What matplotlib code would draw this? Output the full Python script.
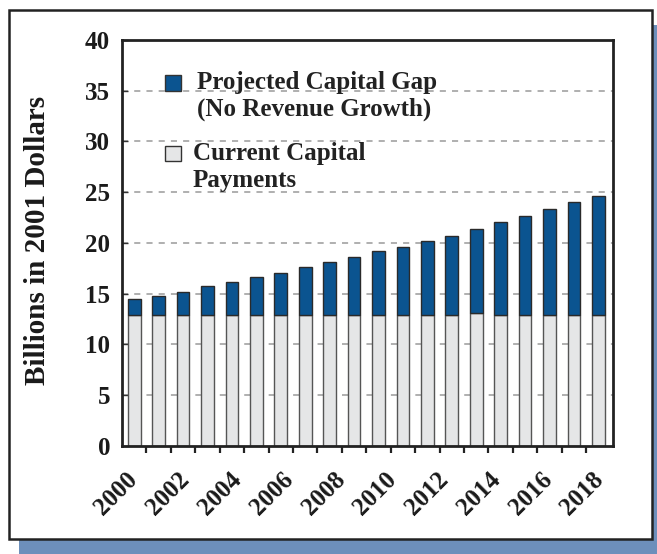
import matplotlib
matplotlib.use("Agg")
import matplotlib.pyplot as plt
import matplotlib.patches as mpatches
import numpy as np

years = list(range(2000, 2020))
current_payments = [12.9, 12.9, 12.9, 12.9, 12.9, 12.9, 12.9, 12.9, 12.9, 12.9,
                    12.9, 12.9, 12.9, 12.9, 13.1, 12.9, 12.9, 12.9, 12.9, 12.9]
total_need = [14.45, 14.75, 15.2, 15.75, 16.15, 16.65, 17.05, 17.6, 18.15, 18.65,
              19.15, 19.6, 20.2, 20.7, 21.4, 22.05, 22.65, 23.3, 24.0, 24.65]
capital_gap = [t - c for t, c in zip(total_need, current_payments)]
tick_labels = [str(y) for y in range(2000, 2019, 2)]
y_ticks = [0, 5, 10, 15, 20, 25, 30, 35, 40]

BLUE = "#0b5490"
GRAY = "#e5e6e7"
SHADOW = "#6d8fbb"
FONT = "Liberation Serif"

W, H = 657, 554
fig = plt.figure(figsize=(W / 100, H / 100), dpi=100)
fig.patch.set_facecolor("white")

def px(x0, y0, x1, y1):
    return (x0 / W, 1 - y1 / H, (x1 - x0) / W, (y1 - y0) / H)

# shadow and panel
sx, sy, sw, sh = px(19, 25, 668, 565)
fig.add_artist(mpatches.Rectangle((sx, sy), sw, sh, transform=fig.transFigure,
                                  facecolor=SHADOW, edgecolor="none", zorder=0))
bx, by, bw, bh = px(8.5, 10, 651.5, 538.5)
fig.add_artist(mpatches.Rectangle((bx, by), bw, bh, transform=fig.transFigure,
                                  facecolor="white", edgecolor="#222222",
                                  linewidth=1.8, zorder=0.5))

ax = fig.add_axes(px(122, 40, 613, 445.7))
ax.set_zorder(1)
ax.patch.set_alpha(0)

x = np.arange(len(years))
ax.bar(x, current_payments, width=0.52, color=GRAY, edgecolor="#555555",
       linewidth=1.0, zorder=3)
ax.bar(x, capital_gap, bottom=current_payments, width=0.52, color=BLUE,
       edgecolor="#2a2a2a", linewidth=1.0, zorder=3)

ax.set_xlim(-0.5, 19.6)
ax.set_ylim(0, 40)
ax.set_yticks(y_ticks)
ax.set_yticklabels([str(v) for v in y_ticks], fontfamily=FONT,
                   fontweight="bold", fontsize=18, color="#1a1a1a")
ax.tick_params(axis="y", length=4, width=1.0, direction="in", pad=8.5,
               color="#333333")

for v in y_ticks[1:-1]:
    ax.axhline(v, color="#9a9a9a", linewidth=1.1, linestyle=(0, (4, 4)), zorder=1)

# x ticks: small marks between bars, labels every two years
ax.set_xticks(x[:-1] + 0.5, minor=True)
ax.tick_params(axis="x", which="minor", length=5, width=1.6, direction="out",
               pad=0, color="#222222")
label_pos = np.arange(len(tick_labels)) * 2.12
ax.set_xticks(label_pos)
ax.set_xticklabels(tick_labels, rotation=45, ha="right", va="center",
                   rotation_mode="anchor", fontfamily=FONT, fontweight="bold",
                   fontsize=18, color="#1a1a1a")
ax.tick_params(axis="x", which="major", length=0, pad=22)

for s in ax.spines.values():
    s.set_linewidth(2.0)
    s.set_color("#222222")
    s.set_zorder(5)

ax.set_ylabel("Billions in 2001 Dollars", fontfamily=FONT, fontweight="bold",
              fontsize=21, color="#1a1a1a")
ax.yaxis.set_label_coords(-0.1446, 0.506)

# legend (manual)
def fig_xy(xp, yp):
    return xp / W, 1 - yp / H

for (y0, col, lines, tx) in [(75, BLUE, ["Projected Capital Gap", "(No Revenue Growth)"], 197),
                             (146, GRAY, ["Current Capital", "Payments"], 193)]:
    rx, ry, rw, rh = px(165, y0, 181, y0 + 15.5)
    fig.add_artist(mpatches.Rectangle((rx, ry), rw, rh, transform=fig.transFigure,
                                      facecolor=col, edgecolor="#333333",
                                      linewidth=1.0, zorder=6))
    for i, t in enumerate(lines):
        fx, fy = fig_xy(tx, y0 + 14 + i * 27)
        fig.text(fx, fy, t, fontfamily=FONT, fontweight="bold", fontsize=18,
                 color="#222222", ha="left", va="baseline", zorder=6)

fig.savefig("out.png", dpi=100, facecolor="white")
